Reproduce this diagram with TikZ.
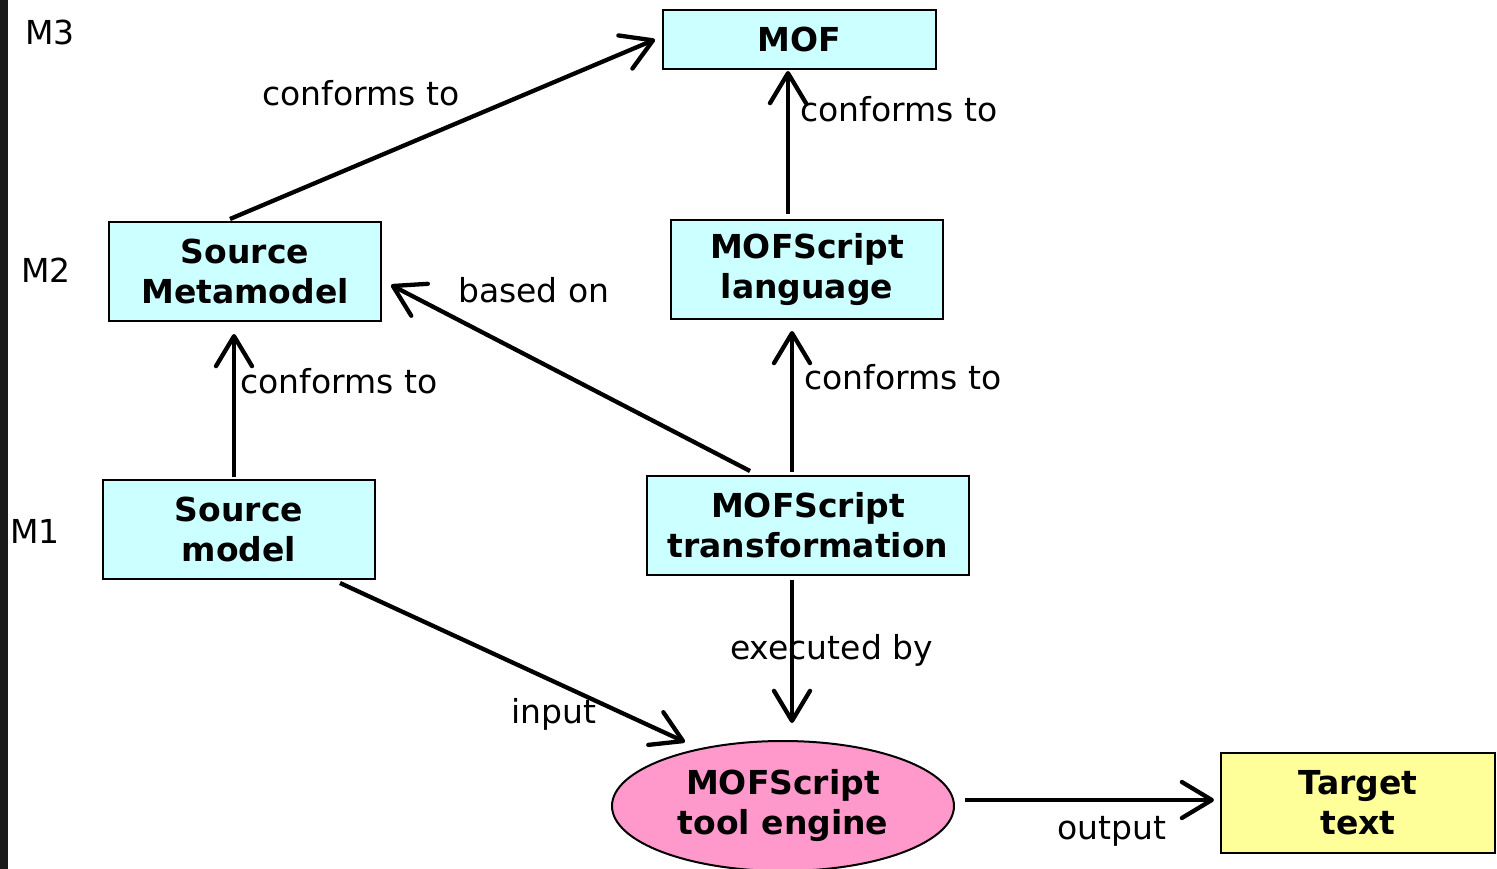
\documentclass[tikz,border=0pt]{standalone}
\usepackage{fontspec}
\setmainfont{DejaVu Sans}
\usetikzlibrary{arrows.meta,shapes.geometric,calc}
\definecolor{boxcyan}{HTML}{CCFFFF}
\definecolor{enginepink}{HTML}{FF99CC}
\definecolor{targetyellow}{HTML}{FFFF99}
\definecolor{strip}{HTML}{1A1A1A}
\tikzset{
  box/.style={draw=black,line width=2pt,fill=boxcyan,inner sep=0pt,align=center,
    font=\fontsize{33}{40}\selectfont\bfseries},
  lbl/.style={inner sep=0pt,anchor=base west,font=\fontsize{33}{38}\selectfont},
  conn/.style={line width=4.3pt,-{Straight Barb[length=30pt,width=36pt,round]}}
}
\begin{document}
\begin{tikzpicture}[x=1pt,y=-1pt]
\useasboundingbox (0,0) rectangle (1497,869);
\fill[white] (0,0) rectangle (1497,869);
\fill[strip] (0,0) rectangle (8,869);

% level labels
\node[lbl] (m3) at (25,45) {M3};
\node[lbl] (m2) at (21,283) {M2};
\node[lbl] (m1) at (10,543) {M1};

% nodes
\node[box,minimum width=273pt,minimum height=59pt] (mof) at (799.5,39.5) {MOF};
\node[box,minimum width=272pt,minimum height=99pt] (smm) at (245,271.5) {Source\\Metamodel};
\node[box,minimum width=272pt,minimum height=99pt] (ml) at (807,269.5) {MOFScript\\language};
\node[box,minimum width=272pt,minimum height=99pt] (sm) at (239,529.5) {Source\\model};
\node[box,minimum width=322pt,minimum height=99pt] (mt) at (808,525.5) {MOFScript\\transformation};
\node[box,ellipse,fill=enginepink,minimum width=342pt,minimum height=130pt] (eng) at (783,806) {MOFScript\\tool engine};
\node[box,fill=targetyellow,minimum width=274pt,minimum height=100pt] (tt) at (1358,803) {Target\\text};

% connectors
\draw[conn] ($(smm.north)+(-15,-2)$) -- ($(mof.west)+(-7,0)$);
\draw[conn] ($(ml.north)+(-19,-5)$) -- ($(mof.south)+(-11.5,1)$);
\draw[conn] ($(sm.north)+(-5,-2)$) -- ($(smm.south)+(-11,12)$);
\draw[conn] ($(mt.north)+(-58,-4)$) -- ($(smm.east)+(9,13.5)$);
\draw[conn] ($(mt.north)+(-16,-3)$) -- ($(ml.south)+(-15,11)$);
\draw[conn] ($(mt.south)+(-16,4)$) -- ($(eng.north)+(9,-17)$);
\draw[conn] ($(sm.south)+(101,3)$) -- ($(eng.center)+(-98,-64)$);
\draw[conn] ($(eng.east)+(10,-6)$) -- ($(tt.west)+(-6,-3)$);

% connector labels
\node[lbl] (l1) at (262,106) {conforms to};
\node[lbl] (l2) at (800,122) {conforms to};
\node[lbl] (l3) at (240,393) {conforms to};
\node[lbl] (l4) at (458,302) {based on};
\node[lbl] (l5) at (804,389) {conforms to};
\node[lbl] (l6) at (730,659) {executed by};
\node[lbl] (l7) at (511,723) {input};
\node[lbl] (l8) at (1057,839) {output};
\end{tikzpicture}
\end{document}
